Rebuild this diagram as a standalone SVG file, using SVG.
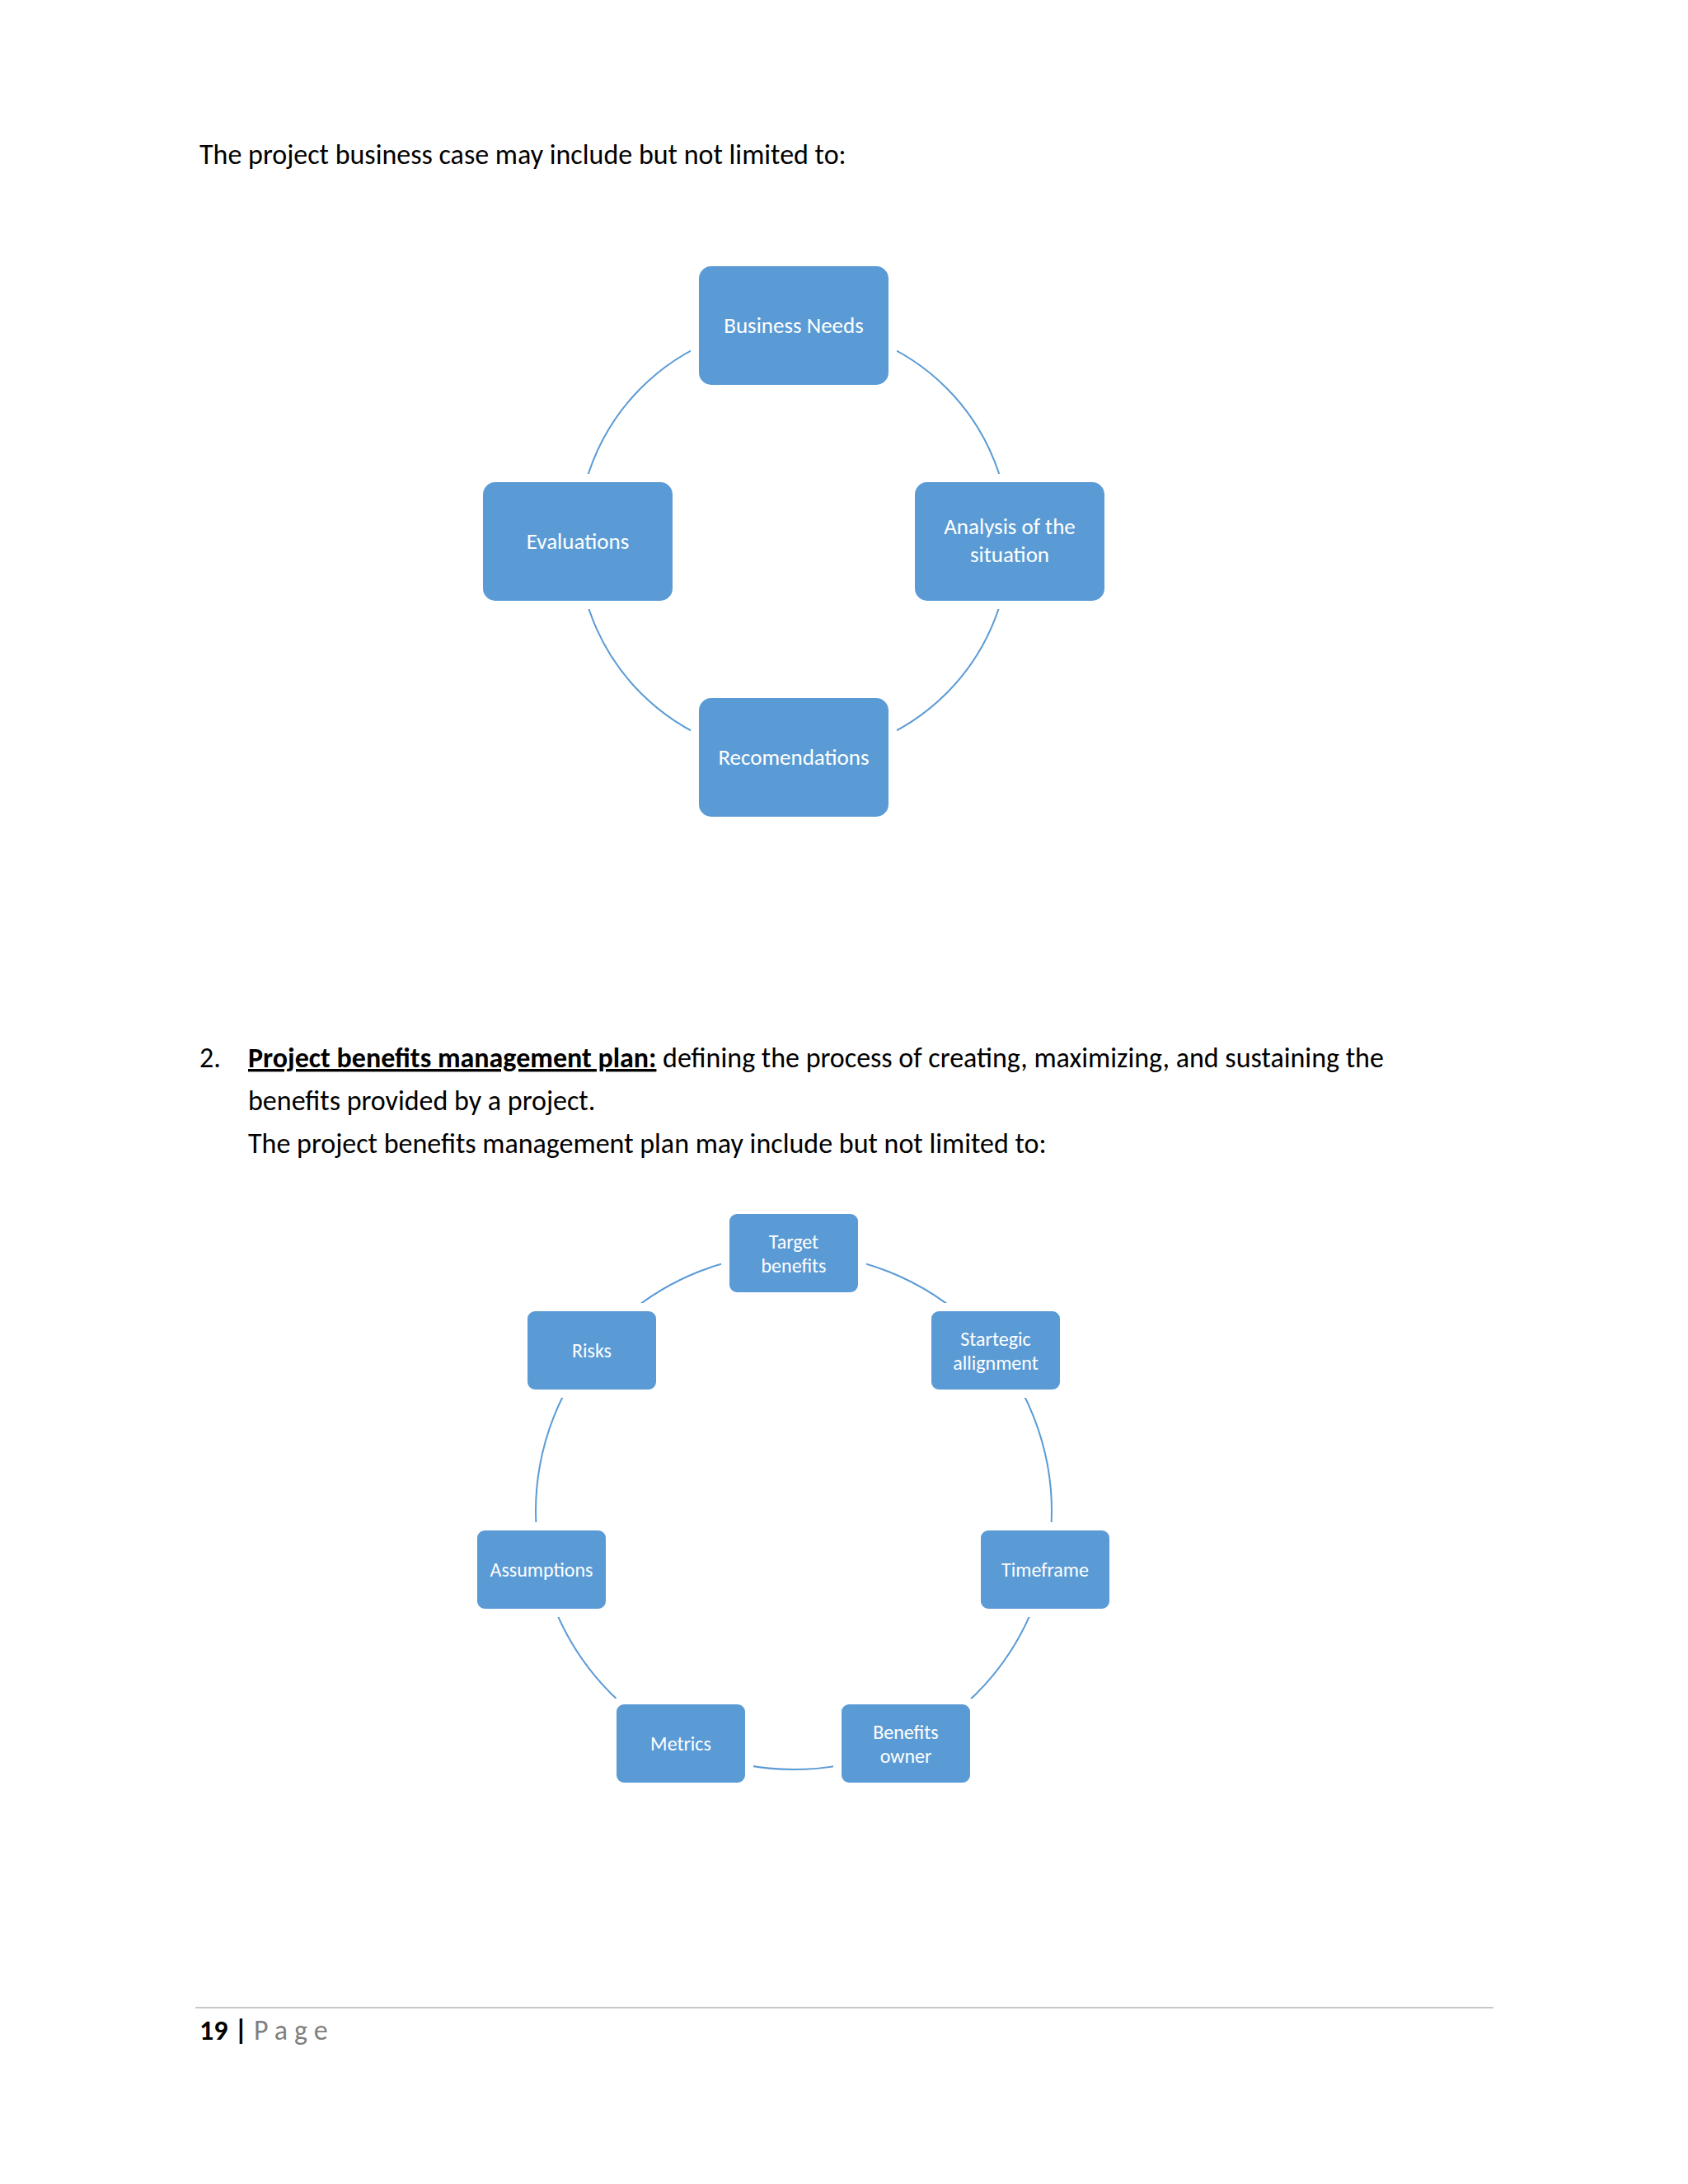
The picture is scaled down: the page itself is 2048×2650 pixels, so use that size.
<svg xmlns="http://www.w3.org/2000/svg" width="2048" height="2650" viewBox="0 0 2048 2650">
<style>
text{font-family:"Calibri","Carlito","Liberation Sans",sans-serif}
.body{font-size:34px;fill:#000}
.box{fill:#5B9BD5;stroke:#fff;stroke-width:10}
.lbl{font-size:27px;fill:#fff;text-anchor:middle}
.lbl2{font-size:24px;fill:#fff;text-anchor:middle}
.ring{fill:none;stroke:#5B9BD5;stroke-width:2}
</style>
<rect width="2048" height="2650" fill="#fff"/>
<text class="body" x="242" y="199">The project business case may include but not limited to:</text>
<g id="connectors">
<circle class="ring" cx="963" cy="656" r="262"/>
<circle class="ring" cx="963" cy="1834" r="313"/>
</g>
<g id="n1"><rect class="box" x="843" y="318" width="240" height="154" rx="20"/><text class="lbl" x="963" y="404">Business Needs</text></g>
<g id="n2"><rect class="box" x="1105" y="580" width="240" height="154" rx="20"/><text class="lbl" x="1225" y="648">Analysis of the</text><text class="lbl" x="1225" y="682">situation</text></g>
<g id="n3"><rect class="box" x="843" y="842" width="240" height="154" rx="20"/><text class="lbl" x="963" y="928">Recomendations</text></g>
<g id="n4"><rect class="box" x="581" y="580" width="240" height="154" rx="20"/><text class="lbl" x="701" y="666">Evaluations</text></g>
<text class="body" x="242" y="1295">2.</text>
<text class="body" x="301" y="1295"><tspan font-weight="bold" text-decoration="underline">Project benefits management plan:</tspan> defining the process of creating, maximizing, and sustaining the</text>
<text class="body" x="301" y="1347">benefits provided by a project.</text>
<text class="body" x="301" y="1399">The project benefits management plan may include but not limited to:</text>
<g id="m1"><rect class="box" x="880" y="1468" width="166" height="105" rx="14"/><text class="lbl2" x="963" y="1515">Target</text><text class="lbl2" x="963" y="1544">benefits</text></g>
<g id="m2"><rect class="box" x="1125" y="1586" width="166" height="105" rx="14"/><text class="lbl2" x="1208" y="1633">Startegic</text><text class="lbl2" x="1208" y="1662">allignment</text></g>
<g id="m3"><rect class="box" x="1185" y="1852" width="166" height="105" rx="14"/><text class="lbl2" x="1268" y="1913">Timeframe</text></g>
<g id="m4"><rect class="box" x="1016" y="2063" width="166" height="105" rx="14"/><text class="lbl2" x="1099" y="2110">Benefits</text><text class="lbl2" x="1099" y="2139">owner</text></g>
<g id="m5"><rect class="box" x="743" y="2063" width="166" height="105" rx="14"/><text class="lbl2" x="826" y="2124">Metrics</text></g>
<g id="m6"><rect class="box" x="574" y="1852" width="166" height="105" rx="14"/><text class="lbl2" x="657" y="1913">Assumptions</text></g>
<g id="m7"><rect class="box" x="635" y="1586" width="166" height="105" rx="14"/><text class="lbl2" x="718" y="1647">Risks</text></g>
<line x1="237" y1="2436" x2="1812" y2="2436" stroke="#c8c8c8" stroke-width="2"/>
<text x="242" y="2475" font-size="34px"><tspan font-weight="bold">19 | </tspan><tspan fill="#7f7f7f" letter-spacing="8">Page</tspan></text>
</svg>
